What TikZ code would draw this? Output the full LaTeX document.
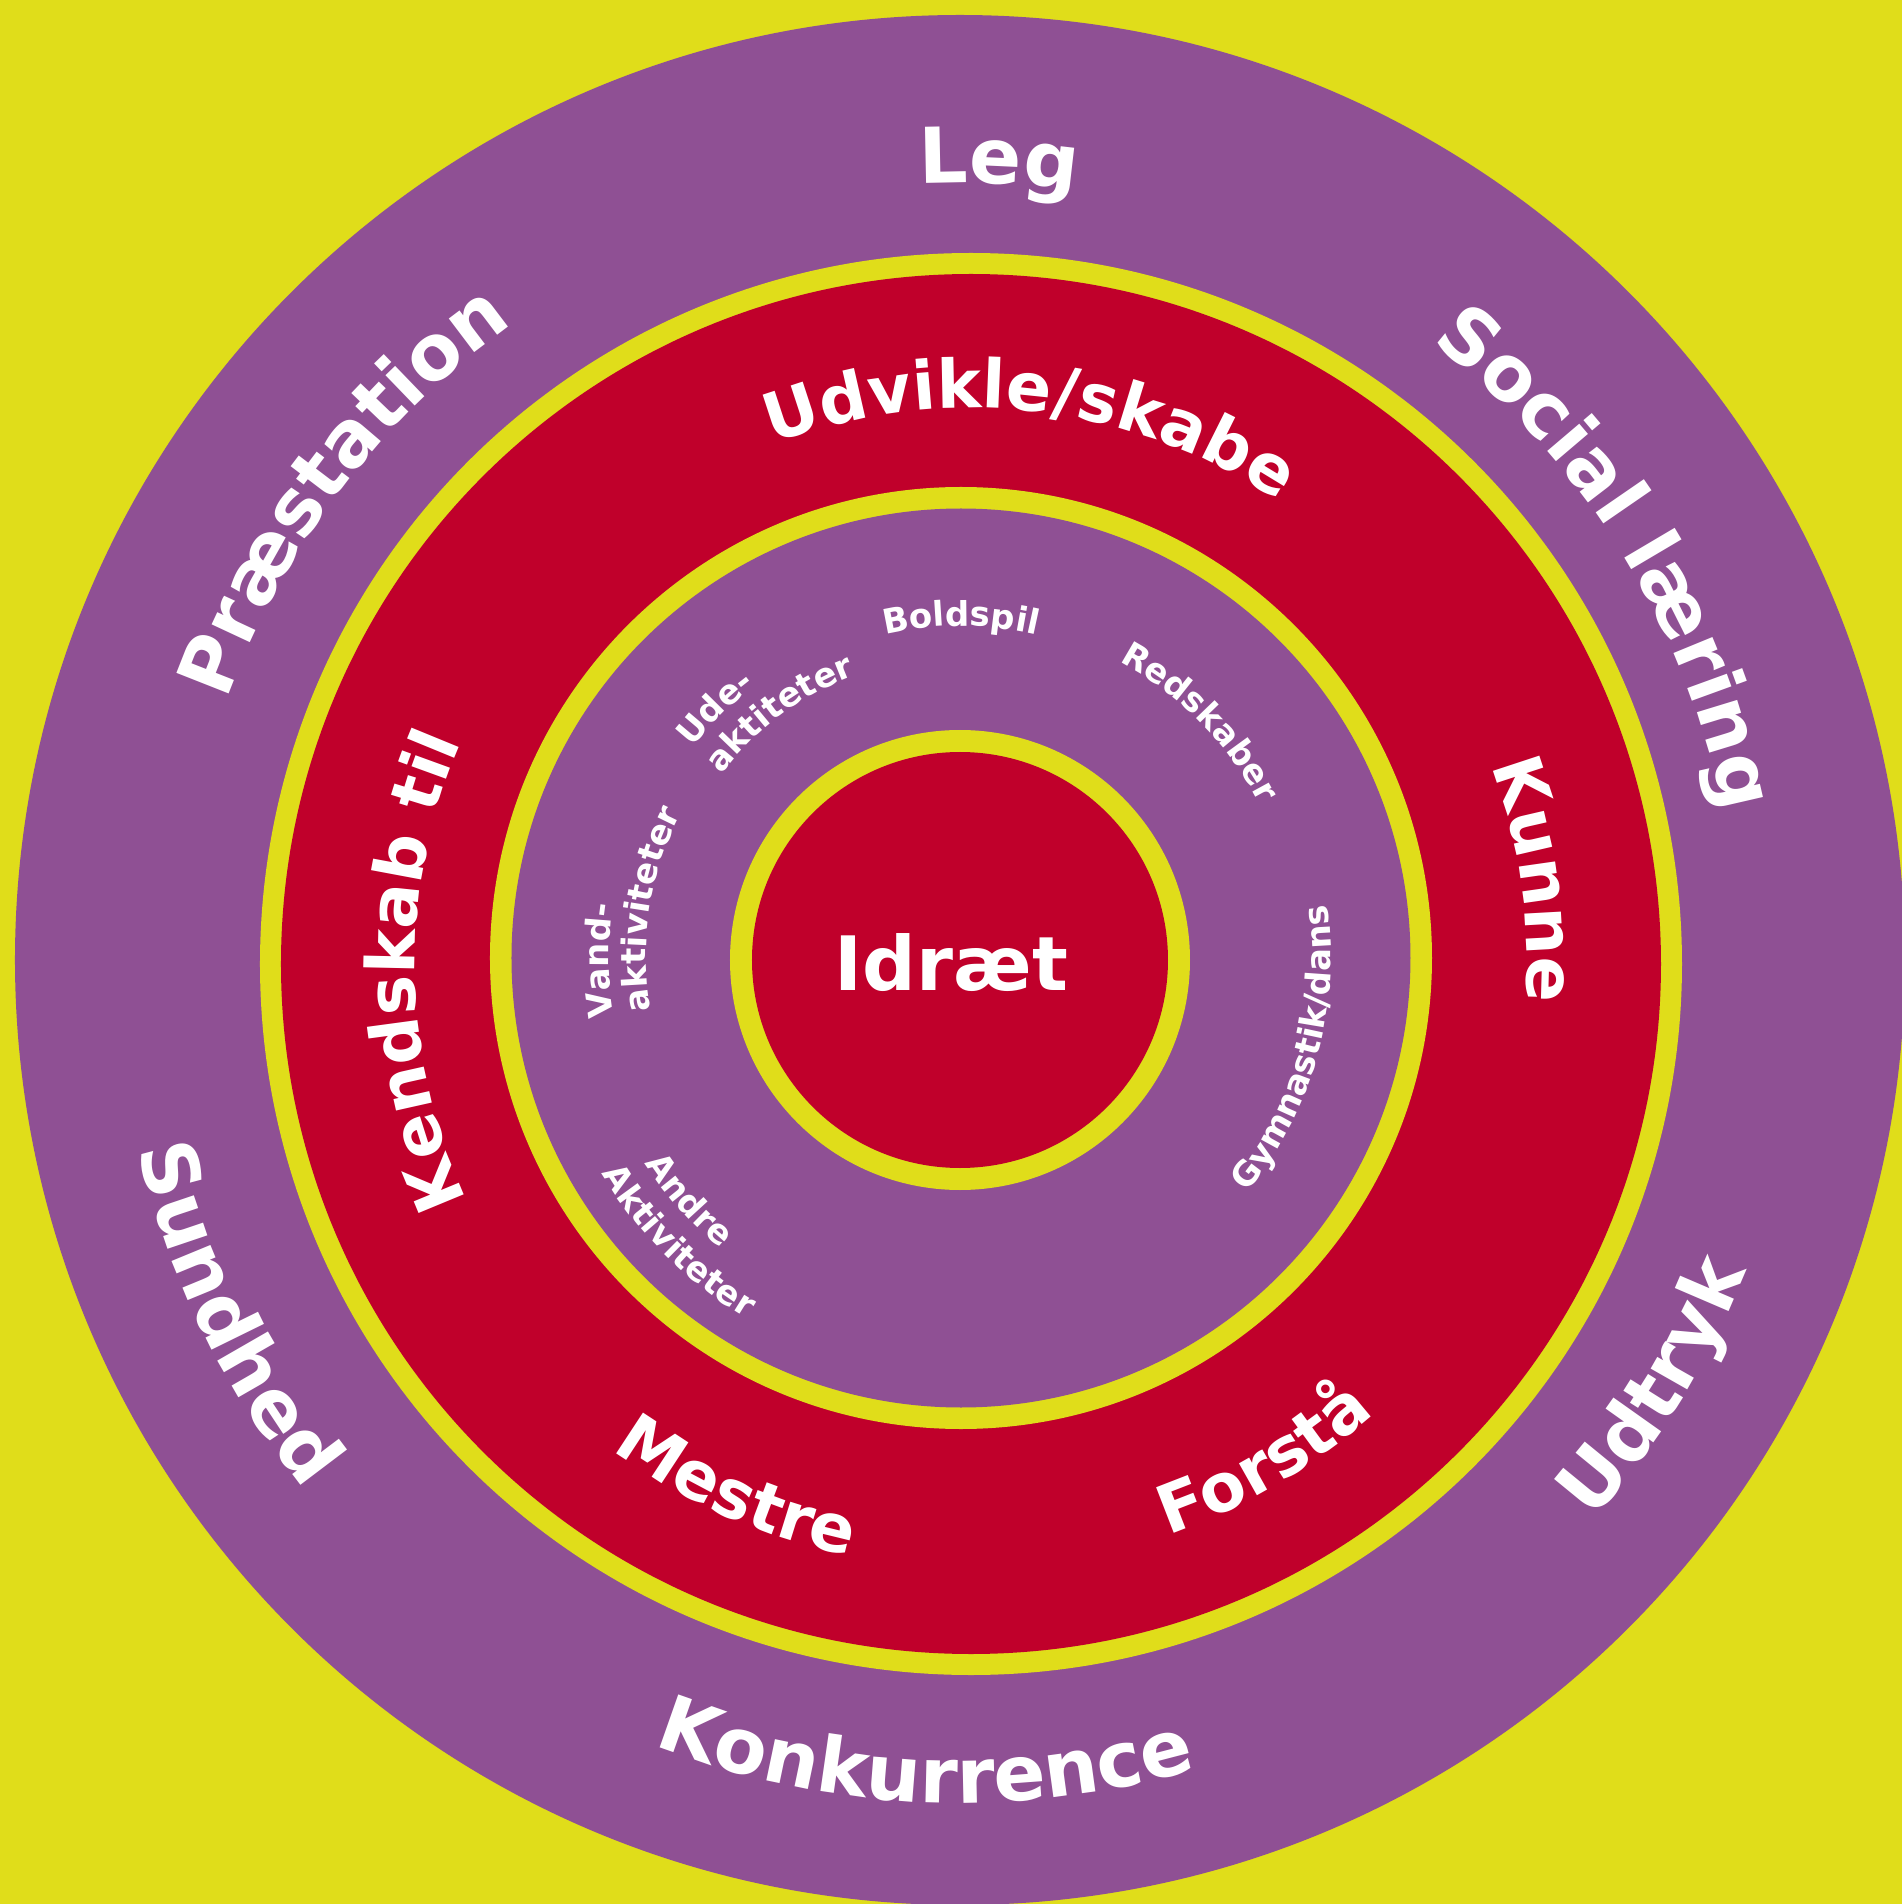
\documentclass[tikz,border=0pt]{standalone}
\usepackage{fontspec}
\setmainfont{DejaVu Sans}
\usetikzlibrary{decorations.text}
\definecolor{bgyellow}{RGB}{224,221,26}
\definecolor{ringpurple}{RGB}{143,80,148}
\definecolor{ringred}{RGB}{192,0,43}
\newcommand\ofont{\fontsize{77}{77}\selectfont\bfseries}
\newcommand\mfont{\fontsize{67}{67}\selectfont\bfseries}
\newcommand\sfont{\fontsize{34}{34}\selectfont\bfseries}
\newcommand\cfont{\fontsize{75}{75}\selectfont\bfseries}
% clockwise text, centred: centre, radius, angle, font, text
\newcommand\cwtext[5]{\path[decorate,decoration={text along path,text color=white,text align=center,text={|#4|#5}}] (#1) ++(#3+80:#2) arc[start angle=#3+80,end angle=#3-80,radius=#2];}
% counter-clockwise text, centred
\newcommand\ccwtext[5]{\path[decorate,decoration={text along path,text color=white,text align=center,text={|#4|#5}}] (#1) ++(#3-80:#2) arc[start angle=#3-80,end angle=#3+80,radius=#2];}
% clockwise, left aligned from start angle
\newcommand\cwleft[5]{\path[decorate,decoration={text along path,text color=white,text align=left,text={|#4|#5}}] (#1) ++(#3:#2) arc[start angle=#3,end angle=#3-120,radius=#2];}
% counter-clockwise, left aligned from start angle
\newcommand\ccwleft[5]{\path[decorate,decoration={text along path,text color=white,text align=left,text={|#4|#5}}] (#1) ++(#3:#2) arc[start angle=#3,end angle=#3+120,radius=#2];}
\begin{document}
\begin{tikzpicture}[x=1pt,y=1pt]
\useasboundingbox (-960,-944) rectangle (942,960);
\clip (-960,-944) rectangle (942,960);
\fill[bgyellow] (-960,-944) rectangle (942,960);
\coordinate (c0) at (0,0);
\coordinate (c1) at (11,-4);
\coordinate (c2) at (1,2);
% discs
\fill[ringpurple] (c0) circle[radius=945];
\fill[bgyellow] (c1) circle[radius=711];
\fill[ringred] (c1) circle[radius=690];
\fill[bgyellow] (c2) circle[radius=471];
\fill[ringpurple] (c2) circle[radius=449.5];
\fill[bgyellow] (c0) circle[radius=230];
\fill[ringred] (c0) circle[radius=208];
% centre
\node[text=white,font=\cfont,anchor=base,inner sep=0pt] (idraet) at (-8.5,-30) {Idræt};
% outer band
\cwtext{c0}{777}{87.2}{\ofont}{Leg}
\cwtext{c0}{777}{142.8}{\ofont}{Præstation}
\cwtext{c0}{777}{31.8}{\ofont}{Social læring}
\ccwtext{c0}{845}{328.5}{\ofont}{Udtryk}
\ccwtext{c0}{843}{267.5}{\ofont}{Konkurrence}
\ccwtext{c0}{843}{206}{\ofont}{Sundhed}
% red band
\cwtext{c1}{556}{83.6}{\mfont}{Udvikle/skabe}
\cwtext{c1}{556}{8.5}{\mfont}{Kunne}
\cwtext{c1}{556}{180.8}{\mfont}{Kendskab til}
\ccwtext{c1}{604}{246}{\mfont}{Mestre}
\ccwtext{c1}{604}{300.5}{\mfont}{Forstå}
% inner purple band
\cwtext{c2}{332}{90}{\sfont}{Boldspil}
\cwtext{c2}{336}{44.6}{\sfont}{Redskaber}
\ccwtext{c2}{370}{-15.5}{\sfont}{Gymnastik/dans}
\cwleft{c2}{341}{142}{\sfont}{Ude-}
\cwleft{c2}{302}{142.5}{\sfont}{aktiteter}
\cwleft{c2}{352}{189.5}{\sfont}{Vand-}
\cwleft{c2}{315}{189.5}{\sfont}{aktiviteter}
\ccwleft{c2}{377}{213}{\sfont}{Andre}
\ccwleft{c2}{419}{211}{\sfont}{Aktiviteter}
\end{tikzpicture}
\end{document}
